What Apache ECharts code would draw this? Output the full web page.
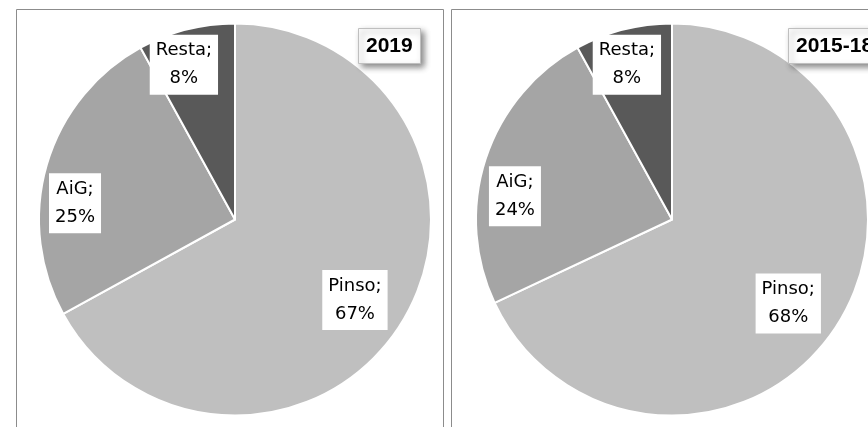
<!DOCTYPE html>
<html>
<head>
<meta charset="utf-8">
<script src="https://cdn.jsdelivr.net/npm/echarts@6/dist/echarts.min.js"></script>
<style>
  html, body { margin: 0; padding: 0; background: #ffffff; }
  #chart { width: 868px; height: 427px; }
</style>
</head>
<body>
<div id="chart"></div>
<script>
// data
const categories = ['Pinso', 'AiG', 'Resta']
const values2019 = [67, 25, 8]
const values201518 = [68, 24, 8]
const panelTitles = ['2019', '2015-18']

const sliceColors = ['#bfbfbf', '#a5a5a5', '#595959']

// label shifts from the default "inside" spot, per slice (Excel best-fit placement)
const labelShift2019 = [[33, 29], [-63, 12], [-26, -57]]
const labelShift201518 = [[31, 30], [-61, 8], [-20, -57]]

function buildData(values) {
  return categories.map((name, i) => ({
    name: name,
    value: values[i],
    itemStyle: { color: sliceColors[i] }
  }))
}

function pieSeries(values, center, shifts) {
  return {
    type: 'pie',
    radius: 196,
    center: center,
    startAngle: 90,
    clockwise: true,
    avoidLabelOverlap: false,
    silent: true,
    itemStyle: {
      borderColor: '#ffffff',
      borderWidth: 2
    },
    label: {
      show: true,
      position: 'inside',
      formatter: '{b};\n{c}%',
      fontFamily: 'DejaVu Sans',
      fontSize: 18,
      lineHeight: 28,
      color: '#000000',
      backgroundColor: '#ffffff',
      padding: [2, 6],
      align: 'center'
    },
    labelLine: { show: false },
    labelLayout: function (params) {
      const s = shifts[params.dataIndex]
      return { dx: s[0], dy: s[1] }
    },
    data: buildData(values)
  }
}

const titleBox = {
  backgroundColor: '#ffffff',
  borderColor: '#bfbfbf',
  borderWidth: 1,
  padding: [7, 8],
  shadowColor: 'rgba(0, 0, 0, 0.45)',
  shadowBlur: 6,
  shadowOffsetX: 3,
  shadowOffsetY: 3,
  textStyle: {
    fontFamily: 'Liberation Sans',
    fontWeight: 'bold',
    fontSize: 21,
    lineHeight: 20,
    color: '#000000'
  }
}

const chart = echarts.init(document.getElementById('chart'))
chart.setOption({
  animation: false,
  backgroundColor: '#ffffff',
  graphic: [
    {
      type: 'rect',
      shape: { x: 16.5, y: 9.5, width: 427, height: 440 },
      style: { fill: 'none', stroke: '#8c8c8c', lineWidth: 1 },
      z: 0
    },
    {
      type: 'rect',
      shape: { x: 451.5, y: 9.5, width: 440, height: 440 },
      style: { fill: 'none', stroke: '#8c8c8c', lineWidth: 1 },
      z: 0
    }
  ],
  title: [
    Object.assign({ text: panelTitles[0], left: 358, top: 29 }, titleBox),
    Object.assign({ text: panelTitles[1], left: 788, top: 29 }, titleBox)
  ],
  series: [
    pieSeries(values2019, [235, 219.5], labelShift2019),
    pieSeries(values201518, [672, 219.5], labelShift201518)
  ]
})
</script>
</body>
</html>
